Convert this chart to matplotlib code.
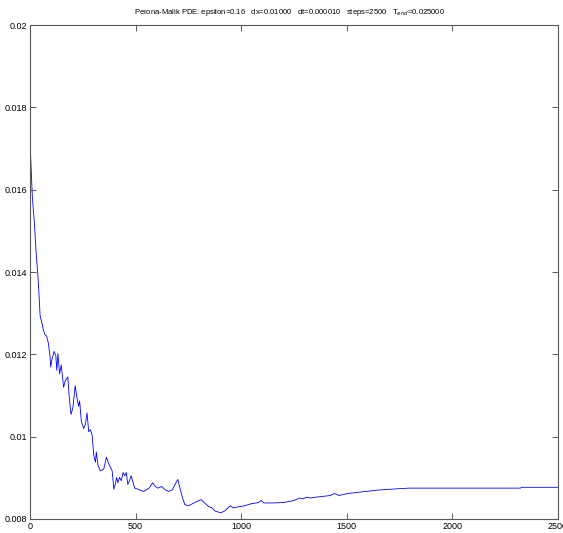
import matplotlib
matplotlib.use('Agg')
import matplotlib.pyplot as plt
from matplotlib.ticker import FuncFormatter

plt.rcParams['font.family'] = ['Liberation Sans Narrow', 'Liberation Sans', 'DejaVu Sans']
plt.rcParams['mathtext.fontset'] = 'custom'
plt.rcParams['mathtext.rm'] = 'Liberation Sans'

# time step vs. value
steps = [0, 3, 8, 11, 21, 29, 37, 43, 48, 56, 63, 71, 79, 87, 95, 98, 103, 114,
         122, 127, 132, 140, 148, 159, 167, 179, 186, 194, 203, 214, 222, 230,
         235, 243, 254, 262, 270, 278, 286, 294, 302, 310, 314, 322, 333, 349,
         362, 373, 381, 389, 397, 405, 410, 416, 424, 432, 441, 449, 456, 463,
         471, 479, 487, 496, 513, 538, 564, 581, 593, 606, 623, 640, 657, 674,
         691, 700, 708, 716, 725, 733, 750, 776, 793, 810, 827, 844, 861, 878,
         903, 920, 937, 949, 963, 980, 1014, 1048, 1081, 1095, 1107, 1149, 1200,
         1251, 1277, 1294, 1311, 1328, 1353, 1387, 1421, 1443, 1463, 1506, 1557,
         1642, 1727, 1795, 1896, 1998, 2321, 2330, 2500]
vals = [0.01711, 0.01682, 0.01620, 0.01583, 0.01517, 0.01446, 0.01393, 0.01343,
        0.01293, 0.01277, 0.01260, 0.01248, 0.01244, 0.01227, 0.01194, 0.01169,
        0.01186, 0.01207, 0.01198, 0.01161, 0.01202, 0.01153, 0.01174, 0.01120,
        0.01136, 0.01145, 0.01095, 0.01054, 0.01070, 0.01124, 0.01095, 0.01074,
        0.01087, 0.01037, 0.01020, 0.01029, 0.01058, 0.01012, 0.01017, 0.01004,
        0.00955, 0.00938, 0.00963, 0.00930, 0.00917, 0.00921, 0.00950, 0.00934,
        0.00926, 0.00917, 0.00872, 0.00888, 0.00901, 0.00888, 0.00901, 0.00893,
        0.00913, 0.00905, 0.00913, 0.00884, 0.00893, 0.00905, 0.00890, 0.00875,
        0.00872, 0.00867, 0.00875, 0.00888, 0.00879, 0.00875, 0.00879, 0.00871,
        0.00867, 0.00871, 0.00888, 0.00896, 0.00879, 0.00863, 0.00847, 0.00835,
        0.00832, 0.00839, 0.00843, 0.00847, 0.00839, 0.00831, 0.00827, 0.00819,
        0.00815, 0.00819, 0.00827, 0.00832, 0.00827, 0.00829, 0.00832, 0.00837,
        0.00840, 0.00845, 0.00839, 0.00839, 0.00840, 0.00845, 0.00851, 0.00849,
        0.00853, 0.00851, 0.00853, 0.00855, 0.00857, 0.00862, 0.00857, 0.00862,
        0.00865, 0.00870, 0.00873, 0.00875, 0.00875, 0.00875, 0.00875, 0.00877,
        0.00877]

xticks = [0, 500, 1000, 1500, 2000, 2500]
yticks = [0.008, 0.01, 0.012, 0.014, 0.016, 0.018, 0.02]

fig = plt.figure(figsize=(5.63, 5.33), dpi=100)
ax = fig.add_axes([30 / 563, 14 / 533, 528 / 563, 494 / 533])

ax.plot(steps, vals, color='#0000ff', linewidth=0.6)

ax.set_xlim(0, 2500)
ax.set_ylim(0.008, 0.02)
ax.set_xticks(xticks)
ax.set_yticks(yticks)
ax.yaxis.set_major_formatter(FuncFormatter(lambda v, p: '%g' % v))
ax.tick_params(direction='in', length=4, width=0.6, colors='0.25',
               labelsize=6.5, labelcolor='black', top=True, right=True,
               pad=2)
for s in ax.spines.values():
    s.set_color('0.35')
    s.set_linewidth(0.8)

fig.text(290 / 563, 1 - 12 / 533,
         'Perona-Malik PDE: epsilon=0.16   dx=0.01000   dt=0.000010   '
         'steps=2500   T$_{end}$=0.025000',
         ha='center', va='center', fontsize=5.5)

fig.savefig('out.png', dpi=100)
